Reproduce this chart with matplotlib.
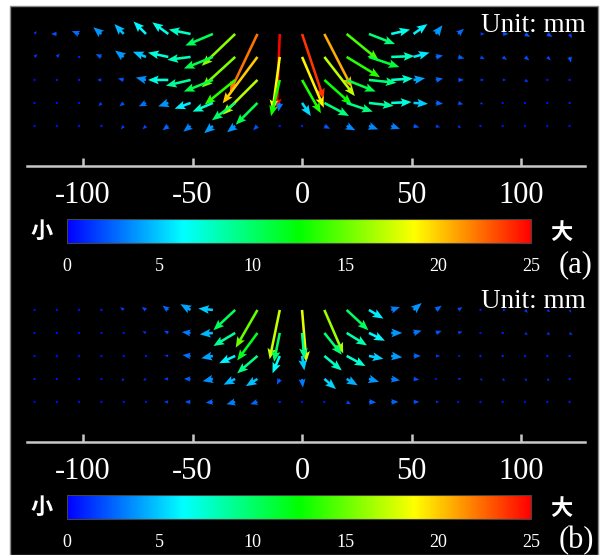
import numpy as np
import matplotlib
matplotlib.use('Agg')
import matplotlib.pyplot as plt
from matplotlib.colors import LinearSegmentedColormap, Normalize
from matplotlib.patches import Rectangle

plt.rcParams['font.family'] = ['Liberation Serif', 'Noto Sans CJK SC']

# measuring grid (mm), 25 columns x 5 rows
col_x = (np.arange(25) - 12) * 10.18
row_y = [60.3, 49.8, 39.3, 28.8, 18.3]

# displacement components (mm), panel (a)
u_a = [
    [0.8, -2, -2.5, -2.8, -3.2, -4.3, -5.5, -7.5, -9.5, -11.5, -9.5, -1, 7.5, 9.5, 11, 9, 6.5, 4.8, 2.3, 2, 1.5, 2, 1.8, 1.8, 0.8],
    [1, 1, 0.8, -2, -3, -4.5, -7, -8, -10, -11.5, -12, -2.5, 7.5, 10.5, 11.5, 10.5, 8, 5.5, 2.5, 2.2, 1.5, 1.5, 1.5, 1.2, 0.5],
    [0.3, 0.5, 0.6, -1.5, -2, -3.5, -7, -8.5, -10, -10.5, -12, -3, 6.5, 9.5, 10, 9.5, 7.5, 4, 2.5, 2, 1.3, 1.2, 1.2, 0.5, 0.6],
    [0.4, 0.4, 0.4, -1, -1.5, -2.5, -3.5, -5.5, -7, -8, -7.5, -0.5, 3, 8.5, 9, 8.5, 7, 5, 2.5, 1.8, 1, 0.4, 0.5, 0.4, 0.5],
    [0.3, 0.3, 0.3, 0.5, -1, -1.2, -2, -2.5, -3, -2.8, -1.5, 0, 0.8, 2, 3, 3.2, 3, 2, 1.5, 1, 0.6, 0.4, 0.3, 0.3, 0.3],
]
v_a = [
    [1.0, 0, 1, 2.3, 3.4, 4.3, 4, 1.5, -4, -11, -20, -26, -22.5, -18.5, -9, -3.5, 1.5, 3.4, 3, 1.8, 0, 0, -1, -1, -1.5],
    [1, 1.2, 0, 1, 2.2, 1.8, 1.5, -1, -4, -10.5, -16, -18.5, -17.5, -13.5, -7, -3.5, 0.3, 1.5, 0.5, -0.5, -0.8, -1, -1.2, -1.2, -2],
    [0, 0, 0, 0, 0.5, 0.8, 0, -2, -4, -8.5, -12, -12.5, -11.5, -8.5, -4, -1, 0.5, 0.6, 0.5, 0, 0, 0, -0.8, 0, -0.4],
    [0, 0, 0, -1.2, -1.2, -1.2, -1.2, -2, -3, -6, -7.5, -3, -4.5, -4.5, -3, -1, 0.3, -0.3, -0.3, -0.5, -0.5, 0, -0.3, 0, -0.5],
    [0, 0, 0, -0.5, -1.2, -1.2, -1.5, -2, -2.5, -2.2, -1.5, -0.6, -0.3, -1, -1.5, -1.2, -1, -0.5, -0.5, -0.8, -0.3, 0, 0, 0, 0],
]

# displacement components (mm), panel (b)
u_b = [
    [0.3, 0.3, 0.4, 0.6, -1.2, -1.5, -2, -3.5, -5, -7.5, -7.5, -3.5, 1.5, 6.5, 7.5, 5, 3, 2.8, 2, 1.5, 0.5, 1.2, 1, 1, 0.6],
    [0.3, 0.3, 0.2, 0.3, 0.4, -1.2, -1.5, -3, -4.5, -7.5, -7, -2, 0.8, 6, 7, 5.5, 3.8, 2.8, 2, 1.5, 0.4, 0.5, 1, 1, 1],
    [0.3, 0.3, 0.3, 0.3, 0.3, 0.5, -1.3, -2.8, -4, -5.5, -7, -2.5, 0.8, 6, 6.5, 5, 3.8, 2.5, 1.5, 1, 0.7, 0.8, 0.6, 0.5, 0.6],
    [0.5, 0.4, 0.4, 0.2, -0.8, -1, -1.5, -2.3, -3.5, -4, -4, -1, 0.3, 4, 3.8, 3.5, 3, 2, 0.4, 1.2, 0.8, 0.8, 0.8, 0.8, 0.6],
    [0, 0.3, 0.3, 0.3, 0.3, 0.4, -1.5, -2, -2.5, -3, -2.5, 0, 0.3, 0.4, 1.5, 2.5, 2.5, 2, 1.2, 0.5, 0.4, 0.4, 0.3, 0.4, 0.4],
]
v_b = [
    [0, 0, 0, 0, 1, 1, 1.5, 2, 0.5, -7, -13, -17, -18, -15, -7, -3, 1, 2.4, 1.5, 1, 0, 0, -1, -0.8, -1],
    [0, 0, 0, 0, 0, 0.6, 0.8, 0.3, -0.5, -4.5, -9.5, -10, -9, -7.5, -4.3, -2.7, 0, 0.8, 0.7, 0.5, 0, -0.5, -0.7, -0.8, -0.8],
    [0, 0, 0, 0, 0, 0, 0.2, 0.3, -0.8, -2.5, -6, -6, -5, -5, -3.5, -1, -0.5, 0, 0, 0, 0, 0, 0, 0, 0],
    [0, 0, 0, 0, -0.8, -0.6, 0, 0, -0.8, -2, -2.5, -2, -3, -3.5, -2.2, -1, -0.5, -0.3, 0, 0, -0.6, -0.8, -0.8, -0.8, -0.5],
    [0, 0, 0, 0, 0, 0, 0, 0, -0.3, -0.8, -0.8, -0.8, 0, 0, -0.8, -0.2, 0, 0, 0, 0, 0, 0, 0, 0, 0],
]

x_ticks = [-100, -50, 0, 50, 100]
cbar_ticks = [0, 5, 10, 15, 20, 25]
panel_labels = ['(a)', '(b)']

cmap = LinearSegmentedColormap.from_list(
    'disp', ['#0000ff', '#00ffff', '#00ff00', '#ffff00', '#ff0000'])
norm = Normalize(0, 25)

W, H = 601, 555
fig = plt.figure(figsize=(W / 100, H / 100), dpi=100)
fig.patch.set_facecolor('white')
fig.patches.append(Rectangle((10 / W, 0), 588 / W, 549 / H, transform=fig.transFigure,
                             facecolor='black', edgecolor='#888888', lw=1, zorder=-10))


def px(x0, y0, w, h):
    # pixel box (from top-left) -> figure fraction
    return [x0 / W, 1 - (y0 + h) / H, w / W, h / H]


X, Y = np.meshgrid(col_x, row_y)
panels = [(u_a, v_a), (u_b, v_b)]

for k, (u, v) in enumerate(panels):
    o = 276 * k
    ax = fig.add_axes(px(27, 6 + o, 558, 160))
    ax.set_facecolor('none')
    U = np.array(u)
    V = np.array(v)
    M = np.hypot(U, V)
    q = ax.quiver(X, Y, U, V, M, cmap=cmap, norm=norm, angles='xy', scale_units='xy',
                  scale=0.755, width=0.0046, headwidth=3.4, headlength=4.2,
                  headaxislength=3.6, pivot='tail')
    ax.set_xlim(-125.6, 129.2)
    ax.set_ylim(0, 73.06)
    for s in ['top', 'left', 'right']:
        ax.spines[s].set_visible(False)
    ax.spines['bottom'].set_color('#c8c8c8')
    ax.spines['bottom'].set_linewidth(1.8)
    ax.set_yticks([])
    ax.set_xticks(x_ticks)
    ax.set_xticklabels([str(t) for t in x_ticks])
    ax.tick_params(axis='x', direction='in', length=6, width=1.8, color='#c8c8c8',
                   labelcolor='white', labelsize=22, pad=11)

    fig.text(586 / W, 1 - (25 + o) / H, 'Unit: mm', color='white', fontsize=19.5,
             ha='right', va='center')

    cax = fig.add_axes(px(67, 219 + o, 464, 24))
    cb = fig.colorbar(q, cax=cax, orientation='horizontal', ticks=cbar_ticks)
    cb.outline.set_edgecolor('#444444')
    cb.outline.set_linewidth(0.8)
    cb.ax.tick_params(length=0, labelcolor='white', labelsize=13, pad=11)

    fig.text(42 / W, 1 - (231 + o) / H, '小', color='white', fontsize=16, fontweight='bold',
             family=['Noto Sans CJK SC'], ha='center', va='center')
    fig.text(561 / W, 1 - (232 + o) / H, '大', color='white', fontsize=16, fontweight='bold',
             family=['Noto Sans CJK SC'], ha='center', va='center')
    fig.text(576 / W, 1 - (265 + o) / H, panel_labels[k], color='white', fontsize=22,
             ha='center', va='center')

fig.savefig('out.png', dpi=100, facecolor=fig.get_facecolor())
